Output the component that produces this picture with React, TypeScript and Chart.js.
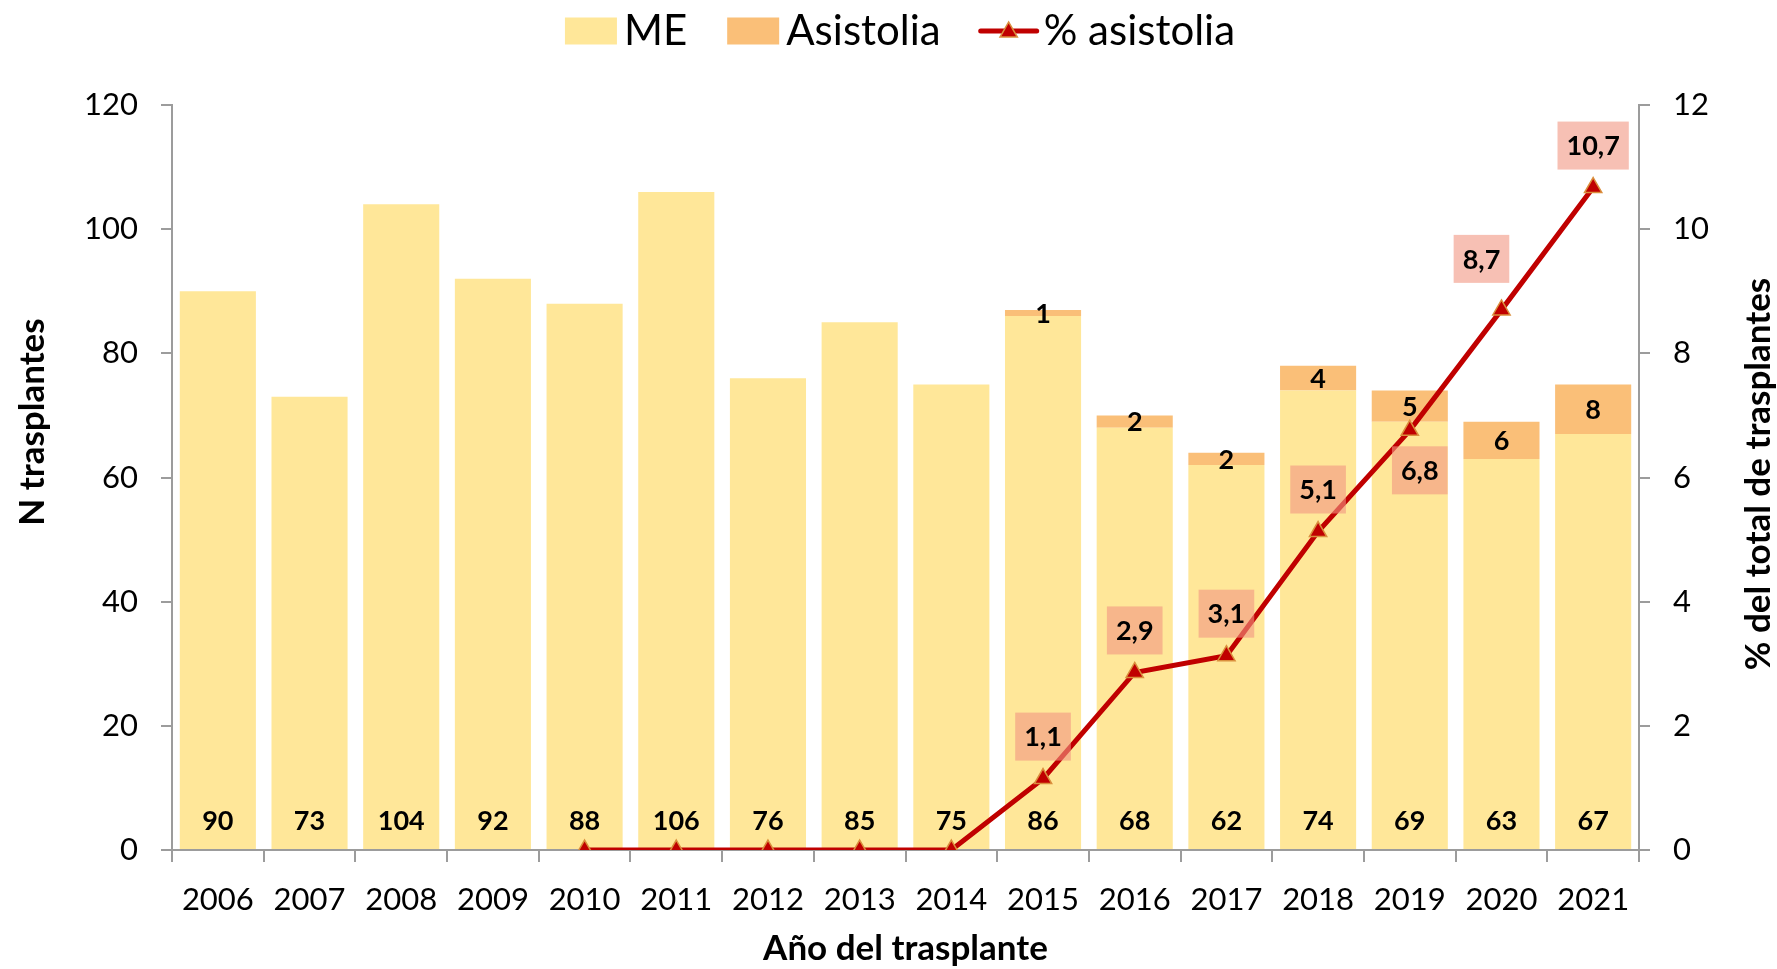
import React, { useEffect, useRef } from 'react';
import { Chart, registerables } from 'chart.js';

Chart.register(...registerables);

const years = ['2006', '2007', '2008', '2009', '2010', '2011', '2012', '2013', '2014', '2015', '2016', '2017', '2018', '2019', '2020', '2021'];
const meValues = [90, 73, 104, 92, 88, 106, 76, 85, 75, 86, 68, 62, 74, 69, 63, 67];
const asistoliaValues = [0, 0, 0, 0, 0, 0, 0, 0, 0, 1, 2, 2, 4, 5, 6, 8];
const pctValues: (number | null)[] = [null, null, null, null, 0, 0, 0, 0, 0, 1.15, 2.86, 3.13, 5.13, 6.76, 8.70, 10.67];
const pctLabelPlacement = ['none', 'none', 'none', 'none', 'none', 'none', 'none', 'none', 'none', 'above', 'above', 'above', 'above', 'below', 'aboveLeft', 'above'];

const legendLabels = ['ME', 'Asistolia', '% asistolia'];
const leftTitle = 'N trasplantes';
const rightTitle = '% del total de trasplantes';
const xTitle = 'Año del trasplante';

const FONT = 'Lato, "Open Sans", sans-serif';
const ME_COLOR = '#FFE799';
const AS_COLOR = '#FABF78';
const LINE_COLOR = '#C00000';
const MARKER_BORDER = '#DA8F3E';
const AXIS_COLOR = '#9C9C9C';

export default function App() {
  const ref = useRef<HTMLCanvasElement>(null);

  useEffect(() => {
    const canvas = ref.current!;

    const drawTriangle = (ctx: CanvasRenderingContext2D, x: number, y: number, r: number) => {
      ctx.beginPath();
      for (let k = 0; k < 3; k++) {
        const a = (k * 2 * Math.PI) / 3;
        const px = x + Math.sin(a) * r;
        const py = y - Math.cos(a) * r;
        if (k === 0) ctx.moveTo(px, py);
        else ctx.lineTo(px, py);
      }
      ctx.closePath();
      ctx.fillStyle = LINE_COLOR;
      ctx.fill();
      ctx.lineWidth = 1.5;
      ctx.strokeStyle = MARKER_BORDER;
      ctx.stroke();
    };

    const labelsPlugin = {
      id: 'customLabels',
      afterDatasetsDraw(chart: any) {
        const ctx: CanvasRenderingContext2D = chart.ctx;
        const yScale = chart.scales.y;
        const lineMeta = chart.getDatasetMeta(0);
        const meMeta = chart.getDatasetMeta(1);
        const asMeta = chart.getDatasetMeta(2);
        ctx.save();
        ctx.font = `bold 27px ${FONT}`;
        ctx.fillStyle = '#000';
        ctx.textAlign = 'center';
        ctx.textBaseline = 'middle';
        meValues.forEach((v, i) => {
          const bar = meMeta.data[i];
          ctx.fillText(String(v), bar.x, yScale.getPixelForValue(0) - 29);
        });
        asistoliaValues.forEach((v, i) => {
          if (!v) return;
          const bar = asMeta.data[i];
          ctx.fillText(String(v), bar.x, (bar.y + bar.base) / 2 + 1);
        });
        pctValues.forEach((v, i) => {
          const place = pctLabelPlacement[i];
          if (v === null || place === 'none') return;
          const pt = lineMeta.data[i];
          let dx = 0;
          let dy = -42;
          if (place === 'below') { dx = 10; dy = 40; }
          if (place === 'aboveLeft') { dx = -20; dy = -51; }
          const txt = v.toFixed(1).replace('.', ',');
          const w = ctx.measureText(txt).width + 18;
          const h = 48;
          const cx = pt.x + dx;
          const cy = pt.y + dy;
          ctx.fillStyle = 'rgba(242,150,130,0.6)';
          ctx.fillRect(cx - w / 2, cy - h / 2, w, h);
          ctx.fillStyle = '#000';
          ctx.fillText(txt, cx, cy + 1);
        });
        ctx.restore();
      },
      afterDraw(chart: any) {
        const ctx: CanvasRenderingContext2D = chart.ctx;
        const area = chart.chartArea;
        ctx.save();
        // axis titles
        ctx.fillStyle = '#000';
        ctx.font = `bold 35px ${FONT}`;
        ctx.textAlign = 'center';
        ctx.textBaseline = 'middle';
        ctx.fillText(xTitle, (area.left + area.right) / 2, 949);
        ctx.save();
        ctx.translate(33, 422);
        ctx.rotate(-Math.PI / 2);
        ctx.fillText(leftTitle, 0, 0);
        ctx.restore();
        ctx.save();
        ctx.translate(1759, 474);
        ctx.rotate(-Math.PI / 2);
        ctx.fillText(rightTitle, 0, 0);
        ctx.restore();

        // legend
        ctx.font = `42px ${FONT}`;
        ctx.textAlign = 'left';
        const boxW = 52, boxH = 27, gapIn = 7, gapOut = 40, lineW = 56;
        const widths = legendLabels.map((t) => ctx.measureText(t).width);
        const total = boxW + gapIn + widths[0] + gapOut + boxW + gapIn + widths[1] + gapOut + lineW + gapIn + widths[2];
        let x = 900 - total / 2;
        const cy = 31;
        ctx.fillStyle = ME_COLOR;
        ctx.fillRect(x, cy - boxH / 2, boxW, boxH);
        x += boxW + gapIn;
        ctx.fillStyle = '#000';
        ctx.fillText(legendLabels[0], x, cy);
        x += widths[0] + gapOut;
        ctx.fillStyle = AS_COLOR;
        ctx.fillRect(x, cy - boxH / 2, boxW, boxH);
        x += boxW + gapIn;
        ctx.fillStyle = '#000';
        ctx.fillText(legendLabels[1], x, cy);
        x += widths[1] + gapOut;
        ctx.strokeStyle = LINE_COLOR;
        ctx.lineWidth = 5;
        ctx.lineCap = 'round';
        ctx.beginPath();
        ctx.moveTo(x, cy);
        ctx.lineTo(x + lineW, cy);
        ctx.stroke();
        drawTriangle(ctx, x + lineW / 2, cy + 1, 10);
        x += lineW + gapIn;
        ctx.fillStyle = '#000';
        ctx.fillText(legendLabels[2], x, cy);
        ctx.restore();
      },
    };

    const tickFont = { family: FONT, size: 31 };

    const chart = new Chart(canvas, {
      type: 'bar',
      data: {
        labels: years,
        datasets: [
          {
            type: 'line',
            label: legendLabels[2],
            data: pctValues,
            yAxisID: 'y2',
            borderColor: LINE_COLOR,
            borderWidth: 5,
            pointStyle: 'triangle',
            pointRadius: 10,
            pointHoverRadius: 10,
            pointBackgroundColor: LINE_COLOR,
            pointBorderColor: MARKER_BORDER,
            pointBorderWidth: 1.5,
            tension: 0,
            order: 0,
          } as any,
          {
            type: 'bar',
            label: legendLabels[0],
            data: meValues,
            yAxisID: 'y',
            backgroundColor: ME_COLOR,
            barPercentage: 0.83,
            categoryPercentage: 1,
            order: 1,
          },
          {
            type: 'bar',
            label: legendLabels[1],
            data: asistoliaValues,
            yAxisID: 'y',
            backgroundColor: AS_COLOR,
            barPercentage: 0.83,
            categoryPercentage: 1,
            order: 1,
          },
        ],
      },
      options: {
        animation: false,
        responsive: false,
        maintainAspectRatio: false,
        layout: { padding: { top: 105, left: 0, right: 0, bottom: 0 } },
        plugins: {
          legend: { display: false },
          tooltip: { enabled: false },
        },
        scales: {
          x: {
            type: 'category',
            stacked: true,
            offset: true,
            grid: { offset: true, drawOnChartArea: false, drawTicks: true, tickLength: 12, color: AXIS_COLOR, lineWidth: 2 },
            border: { color: AXIS_COLOR, width: 2 },
            ticks: { font: tickFont, color: '#000', padding: 19, maxRotation: 0, autoSkip: false },
            afterFit: (s: any) => { s.height = 119; },
          },
          y: {
            type: 'linear',
            position: 'left',
            stacked: true,
            min: 0,
            max: 120,
            grid: { drawOnChartArea: false, drawTicks: true, tickLength: 11, color: AXIS_COLOR, lineWidth: 2 },
            border: { color: AXIS_COLOR, width: 2 },
            ticks: { stepSize: 20, font: tickFont, color: '#000', padding: 23 },
            afterFit: (s: any) => { s.width = 172; },
          },
          y2: {
            type: 'linear',
            position: 'right',
            min: 0,
            max: 12,
            grid: { drawOnChartArea: false, drawTicks: true, tickLength: 11, color: AXIS_COLOR, lineWidth: 2 },
            border: { color: AXIS_COLOR, width: 2 },
            ticks: { stepSize: 2, font: tickFont, color: '#000', padding: 23 },
            afterFit: (s: any) => { s.width = 138; },
          },
        },
      },
      plugins: [labelsPlugin],
    });

    return () => chart.destroy();
  }, []);

  return (
    <div style={{ position: 'absolute', left: 0, top: 0, width: 1777, height: 969, background: '#fff' }}>
      <canvas ref={ref} width={1777} height={969} style={{ width: 1777, height: 969, display: 'block' }} />
    </div>
  );
}
